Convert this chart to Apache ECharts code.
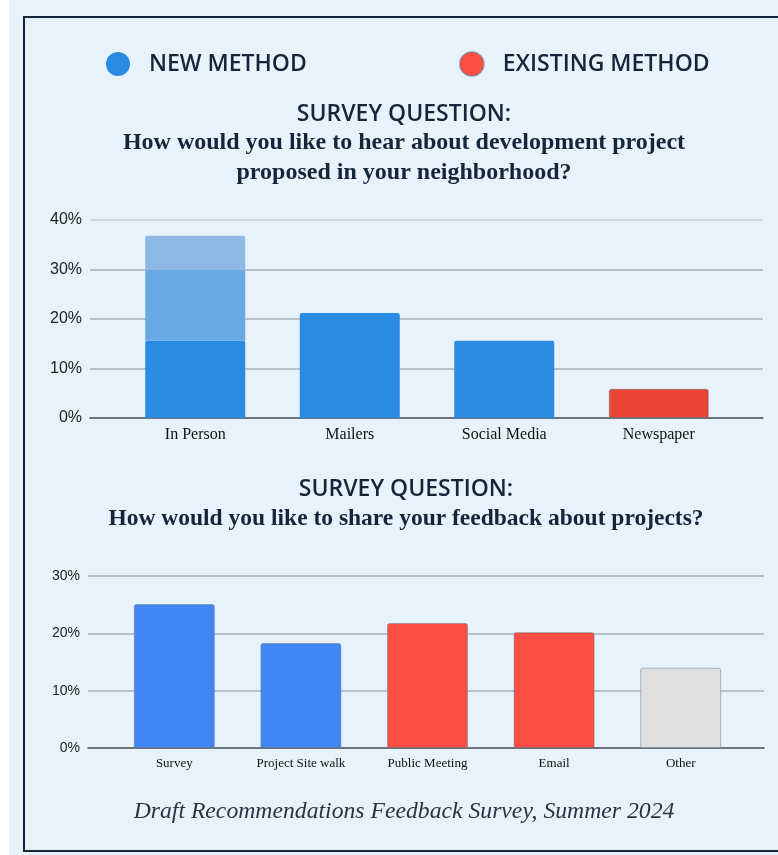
<!DOCTYPE html>
<html>
<head>
<meta charset="utf-8">
<title>Survey results</title>
<script src="https://cdn.jsdelivr.net/npm/echarts@6/dist/echarts.min.js"></script>
<style>
  html, body { margin: 0; padding: 0; background: #e8f2fb; }
  #chart { width: 778px; height: 855px; }
</style>
</head>
<body>
<div id="chart"></div>
<script>
// ---- data ----
const hearCategories = ["In Person", "Mailers", "Social Media", "Newspaper"];
// In Person is drawn as three stacked shades
const hearNewBase = [15.6, 21.2, 15.6, "-"];
const hearNewMid = [14.4, "-", "-", "-"];
const hearNewTop = [6.8, "-", "-", "-"];
const hearExisting = ["-", "-", "-", 5.9];
const hearTicks = [0, 10, 20, 30, 40];

const shareCategories = ["Survey", "Project Site walk", "Public Meeting", "Email", "Other"];
const shareNew = [25.1, 18.3, "-", "-", "-"];
const shareExisting = ["-", "-", 21.8, 20.2, "-"];
const shareOther = ["-", "-", "-", "-", 14.0];
const shareTicks = [0, 10, 20, 30];

const navy = "#15263a";
const gridColor = "#a9b0b7";
const serif = "'Liberation Serif', 'DejaVu Serif', serif";
const sans = "'Liberation Sans', Arial, sans-serif";
const heading = "'Open Sans', 'Noto Sans', sans-serif";

const chart = echarts.init(document.getElementById("chart"));

function barStyle(color, border) {
  return {
    color: color,
    borderColor: "rgba(95,115,135,0.45)",
    borderWidth: border === false ? 0 : 1,
    borderRadius: [2, 2, 0, 0],
  };
}

// wide grid = gridlines + y labels, narrow grid = bars + category labels
function lineAxis(gridIndex, ticks, show, fontSize, lineColors) {
  return {
    type: "value",
    gridIndex: gridIndex,
    min: ticks[0],
    max: ticks[ticks.length - 1],
    interval: 10,
    show: show,
    axisLine: { show: false },
    axisTick: { show: false },
    axisLabel: {
      formatter: "{value}%",
      color: "#222",
      fontFamily: sans,
      fontSize: fontSize,
      margin: 8,
    },
    splitLine: { lineStyle: { color: lineColors || gridColor, width: 1.5 } },
  };
}

const option = {
  backgroundColor: "#e8f2fb",
  animation: false,
  legend: {
    left: 106,
    top: 51,
    padding: 0,
    icon: "circle",
    itemWidth: 24,
    itemHeight: 24,
    itemGap: 152,
    selectedMode: false,
    textStyle: {
      fontFamily: heading,
      fontWeight: 600,
      fontSize: 23,
      color: navy,
      padding: [0, 0, 0, 14],
    },
    data: [
      { name: "NEW METHOD", itemStyle: { color: "#2a8be2" } },
      { name: "EXISTING METHOD", itemStyle: { color: "#fc4e42" } },
    ],
  },
  grid: [
    { left: 90, right: 15, top: 220, height: 198 },
    { left: 118, right: 42, top: 220, height: 198 },
    { left: 88, right: 14, top: 576, height: 172 },
    { left: 111, right: 34, top: 576, height: 172 },
  ],
  xAxis: [
    {
      type: "category", gridIndex: 0, data: hearCategories,
      axisLine: { lineStyle: { color: "#555c63", width: 1.5 } },
      axisTick: { show: false }, axisLabel: { show: false },
    },
    {
      type: "category", gridIndex: 1, data: hearCategories,
      axisLine: { show: false }, axisTick: { show: false },
      axisLabel: { color: "#111", fontFamily: serif, fontSize: 16, margin: 9 },
    },
    {
      type: "category", gridIndex: 2, data: shareCategories,
      axisLine: { lineStyle: { color: "#555c63", width: 1.5 } },
      axisTick: { show: false }, axisLabel: { show: false },
    },
    {
      type: "category", gridIndex: 3, data: shareCategories,
      axisLine: { show: false }, axisTick: { show: false },
      axisLabel: { color: "#111", fontFamily: serif, fontSize: 13, margin: 9 },
    },
  ],
  yAxis: [
    lineAxis(0, hearTicks, true, 16, [gridColor, gridColor, gridColor, gridColor, "#c9cfd5"]),
    lineAxis(1, hearTicks, false, 16),
    lineAxis(2, shareTicks, true, 14),
    lineAxis(3, shareTicks, false, 14),
  ],
  series: [
    { name: "NEW METHOD", type: "bar", xAxisIndex: 1, yAxisIndex: 1, stack: "hear", barWidth: 100,
      data: hearNewBase, itemStyle: barStyle("#2a8be2", false) },
    { name: "NEW METHOD", type: "bar", xAxisIndex: 1, yAxisIndex: 1, stack: "hear", barWidth: 100,
      data: hearNewMid, itemStyle: barStyle("#69a9e4", false) },
    { name: "NEW METHOD", type: "bar", xAxisIndex: 1, yAxisIndex: 1, stack: "hear", barWidth: 100,
      data: hearNewTop, itemStyle: barStyle("#8cb9e5", false) },
    { name: "EXISTING METHOD", type: "bar", xAxisIndex: 1, yAxisIndex: 1, stack: "hear", barWidth: 100,
      data: hearExisting, itemStyle: barStyle("#e94435") },
    { name: "NEW METHOD", type: "bar", xAxisIndex: 3, yAxisIndex: 3, stack: "share", barWidth: 81,
      data: shareNew, itemStyle: barStyle("#4285f4") },
    { name: "EXISTING METHOD", type: "bar", xAxisIndex: 3, yAxisIndex: 3, stack: "share", barWidth: 81,
      data: shareExisting, itemStyle: barStyle("#fc4e42") },
    { name: "Other", type: "bar", xAxisIndex: 3, yAxisIndex: 3, stack: "share", barWidth: 81,
      data: shareOther, itemStyle: barStyle("#dfdfdf") },
  ],
  graphic: [
    { type: "rect", shape: { x: 0, y: 0, width: 9, height: 855 }, style: { fill: "#ffffff" }, silent: true },
    { type: "rect", shape: { x: 24, y: 17, width: 790, height: 834 },
      style: { fill: "none", stroke: navy, lineWidth: 2 }, silent: true },
    { type: "text", x: 404, y: 114, style: {
        text: "SURVEY QUESTION:", align: "center", verticalAlign: "middle",
        font: "600 23px " + heading, fill: navy } },
    { type: "text", x: 404, y: 158, style: {
        text: "How would you like to hear about development project\nproposed in your neighborhood?",
        align: "center", verticalAlign: "middle", lineHeight: 30,
        font: "bold 24px " + serif, fill: navy } },
    { type: "text", x: 406, y: 489, style: {
        text: "SURVEY QUESTION:", align: "center", verticalAlign: "middle",
        font: "600 23px " + heading, fill: navy } },
    { type: "text", x: 406, y: 519, style: {
        text: "How would you like to share your feedback about projects?",
        align: "center", verticalAlign: "middle",
        font: "bold 23.5px " + serif, fill: navy } },
    { type: "text", x: 404, y: 812, style: {
        text: "Draft Recommendations Feedback Survey, Summer 2024",
        align: "center", verticalAlign: "middle",
        font: "italic 23.7px " + serif, fill: "#2a3340" } },
  ],
};

chart.setOption(option);
</script>
</body>
</html>
